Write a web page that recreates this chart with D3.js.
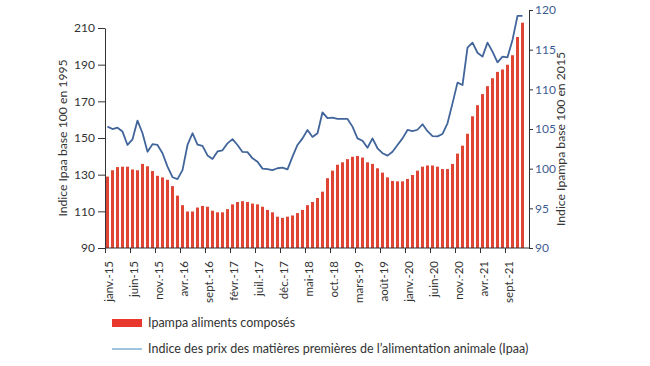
<!DOCTYPE html>
<html><head><meta charset="utf-8">
<script src="https://cdn.jsdelivr.net/npm/d3@7/dist/d3.min.js"></script>
<style>
body{margin:0;background:#fff;}
svg{display:block;font-family:Lato,"Open Sans",sans-serif;}
</style></head>
<body><svg id="c" width="650" height="366"></svg>
<script>
// Categories: monthly, janv. 2015 -> déc. 2021
const months = d3.timeMonths(new Date(2015,0,1), new Date(2022,0,1));
const tickLabels = ["janv.-15","juin-15","nov.-15","avr.-16","sept.-16","févr.-17","juil.-17","déc.-17","mai-18","oct.-18","mars-19","août-19","janv.-20","juin-20","nov.-20","avr.-21","sept.-21"];
// Ipampa aliments composés (base 100 en 2015) - right axis, bars
const ipampa = [99.0,99.8,100.2,100.25,100.25,99.9,99.8,100.6,100.3,99.7,99.1,98.9,
  98.6,97.8,96.6,95.4,94.6,94.6,95.1,95.3,95.2,94.7,94.5,94.5,
  94.9,95.5,95.8,95.9,95.8,95.6,95.5,95.2,94.8,94.5,93.95,93.8,
  93.95,94.1,94.4,94.8,95.4,95.8,96.3,97.1,98.8,99.75,100.5,100.8,
  101.2,101.5,101.6,101.4,100.8,100.6,100.05,99.5,98.9,98.45,98.4,98.4,
  98.7,99.2,99.75,100.25,100.4,100.4,100.25,99.95,99.95,100.6,101.9,102.9,
  104.4,106.6,108.0,109.4,110.4,111.4,112.2,112.5,113.1,114.3,116.6,118.4];
// Ipaa (base 100 en 1995) - left axis, line
const ipaa = [156.2,154.9,155.6,153.5,146.2,149.3,159.5,152.6,142.5,146.6,146.2,141.7,
  134.4,128.6,127.6,132.5,146.2,152.6,146.4,145.7,140.5,138.6,142.7,143.3,
  147.1,149.4,146.2,142.4,142.3,138.9,137.1,133.3,133.0,132.5,133.5,133.8,
  132.9,139.8,146.2,149.8,154.4,150.6,152.6,164.0,160.8,161.1,160.4,160.4,
  160.4,156.2,149.8,148.5,144.7,149.8,144.4,141.7,140.4,142.5,146.2,149.8,
  154.4,153.8,154.5,157.5,153.7,151.0,150.9,152.2,158.0,168.9,180.2,178.9,
  199.3,202.0,196.5,194.4,202.0,197.1,191.3,194.4,194.0,203.5,216.6,216.6];
const leftTicks = [90,110,130,150,170,190,210];
const rightTicks = [90,95,100,105,110,115,120];
const legendLabels = ["Ipampa aliments composés","Indice des prix des matières premières de l\u2019alimentation animale (Ipaa)"];

const svg = d3.select("#c");
const X0 = 105, X1 = 525, AX_R = 529, Y0 = 248;
const xb = d3.scaleBand().domain(d3.range(months.length)).range([X0, X1]).paddingInner(0.4).paddingOuter(0.2);
const xl = d3.scaleLinear().domain([0, months.length]).range([X0, X1]);
const yL = d3.scaleLinear().domain([90,210]).range([Y0, 28]);
const yR = d3.scaleLinear().domain([90,120]).range([Y0, 10]);

// bars
svg.append("g").selectAll("rect").data(ipampa).join("rect")
  .attr("x", (d,i)=>xb(i)).attr("width", xb.bandwidth())
  .attr("y", d=>yR(d)).attr("height", d=>Y0-yR(d))
  .attr("fill", "#df4535");

// line
svg.append("path").datum(ipaa)
  .attr("fill","none").attr("stroke","#41659a").attr("stroke-width",1.8)
  .attr("stroke-linejoin","round")
  .attr("d", d3.line().x((d,i)=>xl(i+0.5)).y(d=>yL(d)));

// left axis
const gL = svg.append("g").attr("transform",`translate(${X0},0)`)
  .call(d3.axisLeft(yL).tickValues(leftTicks).tickSize(7).tickPadding(3).tickSizeOuter(0));
gL.selectAll("text").attr("font-size",12).attr("fill","#333").attr("font-family","Lato,sans-serif");
gL.selectAll("line,path").attr("stroke","#333");

// right axis
const gR = svg.append("g").attr("transform",`translate(${AX_R},0)`)
  .call(d3.axisRight(yR).tickValues(rightTicks).tickSize(4).tickPadding(2).tickSizeOuter(4));
gR.selectAll("text").attr("font-size",12).attr("fill","#3d5b93").attr("font-family","Lato,sans-serif");
gR.selectAll("line,path").attr("stroke","#333");

// bottom axis
const tickIdx = tickLabels.map((d,i)=>i*5);
const gB = svg.append("g").attr("transform",`translate(0,${Y0})`)
  .call(d3.axisBottom(xl).tickValues(tickIdx).tickFormat((d,i)=>tickLabels[i]).tickSize(5).tickSizeOuter(0));
gB.select(".domain").remove();
gB.append("line").attr("x1",X0).attr("x2",AX_R).attr("y1",0).attr("y2",0).attr("stroke","#333");
gB.selectAll("line").attr("stroke","#333");
gB.selectAll("text").attr("font-size",11.5).attr("fill","#333").attr("font-family","Lato,sans-serif")
  .attr("text-anchor","end").attr("transform","rotate(-90)")
  .attr("x",-13).attr("y",3).attr("dy","0.35em");

// axis titles
svg.append("text").attr("transform","translate(67,138) rotate(-90)")
  .attr("text-anchor","middle").attr("font-size",12.2).attr("fill","#333")
  .text("Indice Ipaa base 100 en 1995");
svg.append("text").attr("transform","translate(565,139) rotate(-90)")
  .attr("text-anchor","middle").attr("font-size",12.2).attr("fill","#333")
  .text("Indice Ipampa base 100 en 2015");

// legend
const lg = svg.append("g");
lg.append("rect").attr("x",112).attr("y",319).attr("width",30).attr("height",8).attr("fill","#e8372c");
lg.append("text").attr("x",148).attr("y",323).attr("dy","0.35em").attr("font-size",12.5).attr("fill","#333").text(legendLabels[0]);
lg.append("line").attr("x1",112).attr("x2",142).attr("y1",349).attr("y2",349).attr("stroke","#7fb2d4").attr("stroke-width",1.5);
lg.append("text").attr("x",148).attr("y",349).attr("dy","0.35em").attr("font-size",12.5).attr("fill","#333").text(legendLabels[1]);
</script></body></html>
